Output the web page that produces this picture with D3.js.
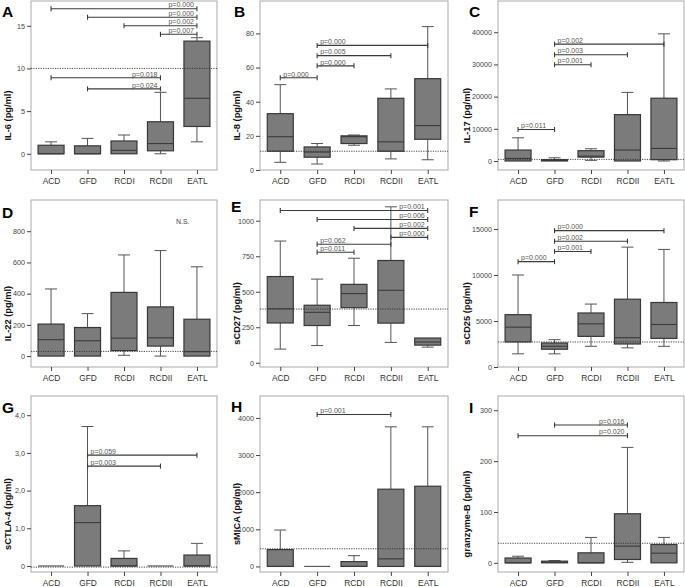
<!DOCTYPE html>
<html>
<head>
<meta charset="utf-8">
<script src="https://cdn.jsdelivr.net/npm/d3@7"></script>
<style>
  html, body { margin: 0; padding: 0; background: #fff; }
  svg { display: block; font-family: "Liberation Sans", Arial, sans-serif; }
</style>
</head>
<body>
<script>
// ---------------- DATA ----------------
const categories = ["ACD", "GFD", "RCDI", "RCDII", "EATL"];

// box stats per category: [min, q1, median, q3, max]
const il6Stats = [[0, 0, 0, 1.0, 1.4], [0, 0, 0, 0.93, 1.8], [0, 0, 0.4, 1.5, 2.2], [0, 0.35, 1.2, 3.75, 7.2], [1.4, 3.2, 6.5, 13.2, 13.6]];
const il8Stats = [[4.5, 11, 19.5, 33, 50], [3.5, 7.5, 10.5, 13.5, 15.5], [14.5, 15.5, 19.5, 20, 20.5], [6.5, 11, 16.5, 42, 47.5], [6, 18, 26, 53.5, 84]];
const il17Stats = [[0, 0, 800, 3400, 7200], [0, 0, 200, 400, 1000], [200, 1200, 1500, 3200, 3800], [0, 0, 3400, 14400, 21300], [0, 400, 3900, 19500, 39500]];
const il22Stats = [[0, 0, 105, 205, 430], [0, 0, 98, 183, 272], [5, 35, 115, 408, 648], [0, 64, 117, 315, 676], [0, 0, 28, 236, 572]];
const scd27Stats = [[96, 280, 380, 607, 857], [121, 262, 355, 405, 589], [262, 388, 487, 552, 736], [143, 279, 510, 720, 1098], [110, 124, 146, 174, 174]];
const scd25Stats = [[1430, 2720, 4330, 5690, 10000], [1430, 1930, 2250, 2610, 2970], [2250, 3330, 4690, 5870, 6840], [2080, 2500, 3190, 7370, 13030], [2250, 3110, 4620, 7010, 12780]];
const sctla4Stats = [[0, 0, 0, 0, 0], [0, 0, 1.15, 1.6, 3.7], [0, 0, 0, 0.2, 0.4], [0, 0, 0, 0, 0], [0, 0, 0, 0.29, 0.6]];
const smicaStats = [[0, 0, 0, 453, 980], [0, 0, 0, 0, 0], [0, 0, 0, 130, 290], [0, 0, 204, 2080, 3760], [0, 0, 0, 2160, 3760]];
const grzbStats = [[0, 0, 0, 9.5, 13], [0, 0, 1, 3.3, 4.5], [0, 0, 0, 19.7, 50], [1, 6.6, 32.8, 96.5, 227], [0, 0, 19, 36, 50]];

// reference (dotted) line values
const refValues = [10, 11, 500, 30, 378, 2720, -0.03, 475, 38.5];

// significance brackets: [from, to, height, label, label side]
const il6Brackets = [["ACD", "EATL", 17.0, "p=0.000", "end"], ["GFD", "EATL", 16.0, "p=0.000", "end"], ["RCDI", "EATL", 15.0, "p=0.002", "end"], ["RCDII", "EATL", 14.0, "p=0.007", "end"], ["ACD", "RCDII", 8.9, "p=0.018", "end"], ["GFD", "RCDII", 7.6, "p=0.024", "end"]];
const il8Brackets = [["ACD", "GFD", 54, "p=0.000", "start"], ["GFD", "RCDI", 61, "p=0.000", "start"], ["GFD", "RCDII", 67, "p=0.005", "start"], ["GFD", "EATL", 73, "p=0.000", "start"]];
const il17Brackets = [["ACD", "GFD", 9800, "p=0.011", "start"], ["GFD", "RCDI", 29900, "p=0.001", "start"], ["GFD", "RCDII", 33000, "p=0.003", "start"], ["GFD", "EATL", 36300, "p=0.002", "start"]];
const il22Brackets = [];
const scd27Brackets = [["ACD", "EATL", 1072, "p=0.001", "end"], ["GFD", "EATL", 1009, "p=0.006", "end"], ["RCDI", "EATL", 946, "p=0.002", "end"], ["RCDII", "EATL", 883, "p=0.000", "end"], ["GFD", "RCDII", 834, "p=0.062", "start"], ["GFD", "RCDI", 778, "p=0.011", "start"]];
const scd25Brackets = [["ACD", "GFD", 11450, "p=0.000", "start"], ["GFD", "RCDI", 12560, "p=0.001", "start"], ["GFD", "RCDII", 13670, "p=0.002", "start"], ["GFD", "EATL", 14820, "p=0.000", "start"]];
const sctla4Brackets = [["GFD", "EATL", 2.94, "p=0.059", "start"], ["GFD", "RCDII", 2.65, "p=0.003", "start"]];
const smicaBrackets = [["GFD", "RCDII", 4090, "p=0.001", "start"]];
const grzbBrackets = [["GFD", "RCDII", 271, "p=0.016", "end"], ["ACD", "RCDII", 250, "p=0.020", "end"]];

// axes
const yTitles = ["IL-6 (pg/ml)", "IL-8 (pg/ml)", "IL-17 (pg/ml)", "IL-22 (pg/ml)", "sCD27 (pg/ml)", "sCD25 (pg/ml)", "sCTLA-4 (pg/ml)", "sMICA (pg/ml)", "granzyme-B (pg/ml)"];
const panelLetters = ["A", "B", "C", "D", "E", "F", "G", "H", "I"];
const yDomains = [[-1.9, 17.9], [0, 99], [-2800, 49700], [-70, 1000], [-30, 1146], [0, 18150], [-0.16, 4.51], [-150, 4590], [-18, 328]];
const yTickValues = [[0, 5, 10, 15], [0, 20, 40, 60, 80], [0, 10000, 20000, 30000, 40000], [0, 200, 400, 600, 800], [0, 250, 500, 750, 1000], [0, 5000, 10000, 15000], [0, 1, 2, 3, 4], [0, 1000, 2000, 3000, 4000], [0, 100, 200, 300]];
const yTickLabels = [["0", "5", "10", "15"], ["0", "20", "40", "60", "80"], ["0", "10000", "20000", "30000", "40000"], ["0", "200", "400", "600", "800"], ["0", "250", "500", "750", "1000"], ["0", "5000", "10000", "15000"], ["0", "1,0", "2,0", "3,0", "4,0"], ["0", "1000", "2000", "3000", "4000"], ["0", "100", "200", "300"]];
const nsNote = { panel: 3, text: "N.S.", value: 860 };

// ---------------- LAYOUT ----------------
const colX = [[31, 217], [260, 448], [498, 684]];
const rowY = [[1, 170], [200, 367], [396, 572]];
const titleX = [8, 237, 467];
const letterPos = [[2, 17], [234, 17], [469, 17], [2, 218], [231, 212], [469, 217], [2, 413], [231, 412], [469, 413]];

const statsList = [il6Stats, il8Stats, il17Stats, il22Stats, scd27Stats, scd25Stats, sctla4Stats, smicaStats, grzbStats];
const bracketList = [il6Brackets, il8Brackets, il17Brackets, il22Brackets, scd27Brackets, scd25Brackets, sctla4Brackets, smicaBrackets, grzbBrackets];

const svg = d3.select("body").append("svg").attr("width", 685).attr("height", 587);

const boxW = 26, capW = 12;

statsList.forEach((stats, i) => {
  const col = i % 3, row = Math.floor(i / 3);
  const [L, R] = colX[col];
  const [T, B] = rowY[row];
  const g = svg.append("g");

  const x = d3.scalePoint().domain(categories).range([L, R]).padding(0.55);
  const y = d3.scaleLinear().domain(yDomains[i]).range([B, T]);

  // frame
  g.append("rect").attr("x", L).attr("y", T).attr("width", R - L).attr("height", B - T)
    .attr("fill", "none").attr("stroke", "#a9a9a9").attr("stroke-width", 1);

  // y axis
  const ya = g.append("g").attr("transform", `translate(${L},0)`)
    .call(d3.axisLeft(y).tickValues(yTickValues[i]).tickFormat((d, k) => yTickLabels[i][k]).tickSize(4).tickPadding(2));
  ya.select(".domain").remove();
  ya.selectAll("line").attr("stroke", "#444");
  ya.selectAll("text").attr("font-size", 7.2).attr("fill", "#444").attr("font-family", "Liberation Sans, Arial, sans-serif");

  // x axis
  const xa = g.append("g").attr("transform", `translate(0,${B})`)
    .call(d3.axisBottom(x).tickSize(4).tickPadding(4.5));
  xa.select(".domain").remove();
  xa.selectAll("line").attr("stroke", "#444");
  xa.selectAll("text").attr("font-size", 8.4).attr("fill", "#333").attr("font-family", "Liberation Sans, Arial, sans-serif");

  // reference line (under the boxes' outlines but visible)
  const refLine = () => g.append("line").attr("x1", L).attr("x2", R).attr("y1", y(refValues[i])).attr("y2", y(refValues[i]))
    .attr("stroke", "#333").attr("stroke-width", 0.9).attr("stroke-dasharray", "1.2,1.2");

  // boxes
  const box = g.selectAll(".box").data(stats.map((s, k) => ({ cat: categories[k], s }))).enter().append("g");
  box.each(function (d) {
    const bg = d3.select(this);
    const cx = x(d.cat);
    const [mn, q1, md, q3, mx] = d.s;
    bg.append("line").attr("x1", cx).attr("x2", cx).attr("y1", y(q3)).attr("y2", y(mx)).attr("stroke", "#555");
    bg.append("line").attr("x1", cx).attr("x2", cx).attr("y1", y(q1)).attr("y2", y(mn)).attr("stroke", "#555");
    if (mx > q3) bg.append("line").attr("x1", cx - capW / 2).attr("x2", cx + capW / 2).attr("y1", y(mx)).attr("y2", y(mx)).attr("stroke", "#555");
    if (mn < q1) bg.append("line").attr("x1", cx - capW / 2).attr("x2", cx + capW / 2).attr("y1", y(mn)).attr("y2", y(mn)).attr("stroke", "#555");
    const flat = q3 - q1 === 0;
    if (flat) {
      bg.append("line").attr("x1", cx - boxW / 2).attr("x2", cx + boxW / 2).attr("y1", y(q1)).attr("y2", y(q1))
        .attr("stroke", "#5a5a5a").attr("stroke-width", 1.2);
    } else {
      bg.append("rect").attr("x", cx - boxW / 2).attr("width", boxW)
        .attr("y", y(q3)).attr("height", y(q1) - y(q3))
        .attr("fill", "#7b7b7b").attr("stroke", "#383838").attr("stroke-width", 1.2);
      bg.append("line").attr("x1", cx - boxW / 2).attr("x2", cx + boxW / 2).attr("y1", y(md)).attr("y2", y(md)).attr("stroke", "#3a3a3a").attr("stroke-width", 1.1);
    }
  });
  refLine();

  // brackets
  bracketList[i].forEach(([a, b, v, lab, side]) => {
    const x1 = x(a), x2 = x(b), yy = y(v);
    g.append("line").attr("x1", x1).attr("x2", x2).attr("y1", yy).attr("y2", yy).attr("stroke", "#3a3a3a").attr("stroke-width", 1.1);
    [x1, x2].forEach(xx => g.append("line").attr("x1", xx).attr("x2", xx).attr("y1", yy - 2.5).attr("y2", yy + 2.5).attr("stroke", "#3a3a3a").attr("stroke-width", 1.1));
    g.append("text").attr("x", side === "end" ? x2 - 3 : x1 + 3).attr("y", yy - 1.3)
      .attr("text-anchor", side).attr("font-size", 7).attr("fill", "#555").text(lab);
  });

  // N.S. note
  if (nsNote.panel === i) {
    g.append("text").attr("x", (x("RCDII") + x("EATL")) / 2 + 4).attr("y", y(nsNote.value))
      .attr("text-anchor", "middle").attr("dominant-baseline", "central").attr("font-size", 7).attr("fill", "#444").text(nsNote.text);
  }

  // y title
  const cy = (T + B) / 2 + 30;
  g.append("text").attr("transform", `translate(${titleX[col]},${cy}) rotate(-90)`)
    .attr("text-anchor", "middle").attr("dominant-baseline", "central")
    .attr("font-size", 9.3).attr("font-weight", "bold").attr("fill", "#111").text(yTitles[i]);

  // panel letter
  g.append("text").attr("x", letterPos[i][0]).attr("y", letterPos[i][1])
    .attr("font-size", 15.5).attr("font-weight", "bold").attr("fill", "#000").text(panelLetters[i]);
});
</script>
</body>
</html>
